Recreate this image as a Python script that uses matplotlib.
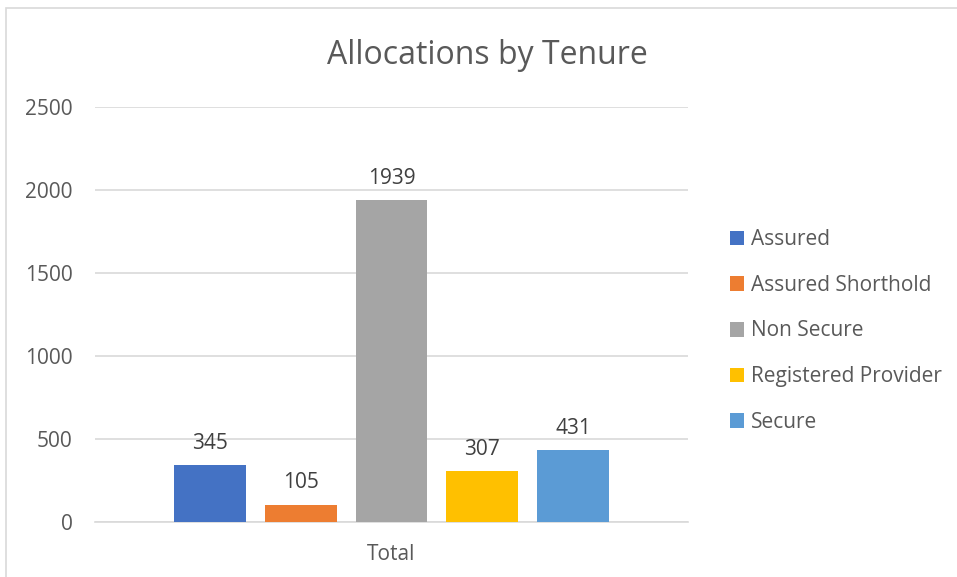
import matplotlib.pyplot as plt
from matplotlib.patches import Rectangle

# Chart data
categories = ["Assured", "Assured Shorthold", "Non Secure", "Registered Provider", "Secure"]
values = [345, 105, 1939, 307, 431]
colors = ["#4472C4", "#ED7D31", "#A5A5A5", "#FFC000", "#5B9BD5"]
group_label = "Total"
y_ticks = [0, 500, 1000, 1500, 2000, 2500]

text_color = "#595959"
plt.rcParams['font.family'] = ['Open Sans', 'DejaVu Sans']

fig = plt.figure(figsize=(9.57, 5.77), dpi=100)
# light frame around the chart area
fig.patches.append(Rectangle((6 / 957, -0.1), 1.2, (577 - 8) / 577 + 0.1,
                             transform=fig.transFigure, fill=False,
                             edgecolor="#D9D9D9", linewidth=1.2))

ax = fig.add_axes([95 / 957, 1 - 522 / 577, (688 - 95) / 957, (522 - 107) / 577])

for i, (cat, val, col) in enumerate(zip(categories, values, colors)):
    bars = ax.bar(i, val, width=0.79, color=col, label=cat, zorder=3)
    ax.bar_label(bars, padding=8, fontsize=15, color="#404040")

ax.set_xlim(-1.267, 5.267)
ax.set_ylim(0, 2500)
ax.set_yticks(y_ticks)
ax.set_xticks([2])
ax.set_xticklabels([group_label])
ax.tick_params(axis="both", length=0, labelsize=15, labelcolor=text_color)
ax.tick_params(axis="y", pad=16)
ax.tick_params(axis="x", pad=16)
ax.grid(axis="y", color="#D9D9D9", linewidth=1.2, zorder=0)
for s in ["top", "right", "left"]:
    ax.spines[s].set_visible(False)
ax.spines["bottom"].set_color("#D9D9D9")
ax.spines["bottom"].set_linewidth(1.2)

fig.text(487 / 957, 1 - 55 / 577, "Allocations by Tenure", ha="center", va="center",
         fontsize=23, color=text_color)

ax.legend(loc="center left", bbox_to_anchor=(711 / 957, 1 - 331 / 577),
          bbox_transform=fig.transFigure, frameon=False, fontsize=15,
          labelcolor=text_color, handlelength=0.7, handleheight=0.7,
          handletextpad=0.3, labelspacing=1.18)

fig.savefig("out.png", dpi=100, facecolor="white")
